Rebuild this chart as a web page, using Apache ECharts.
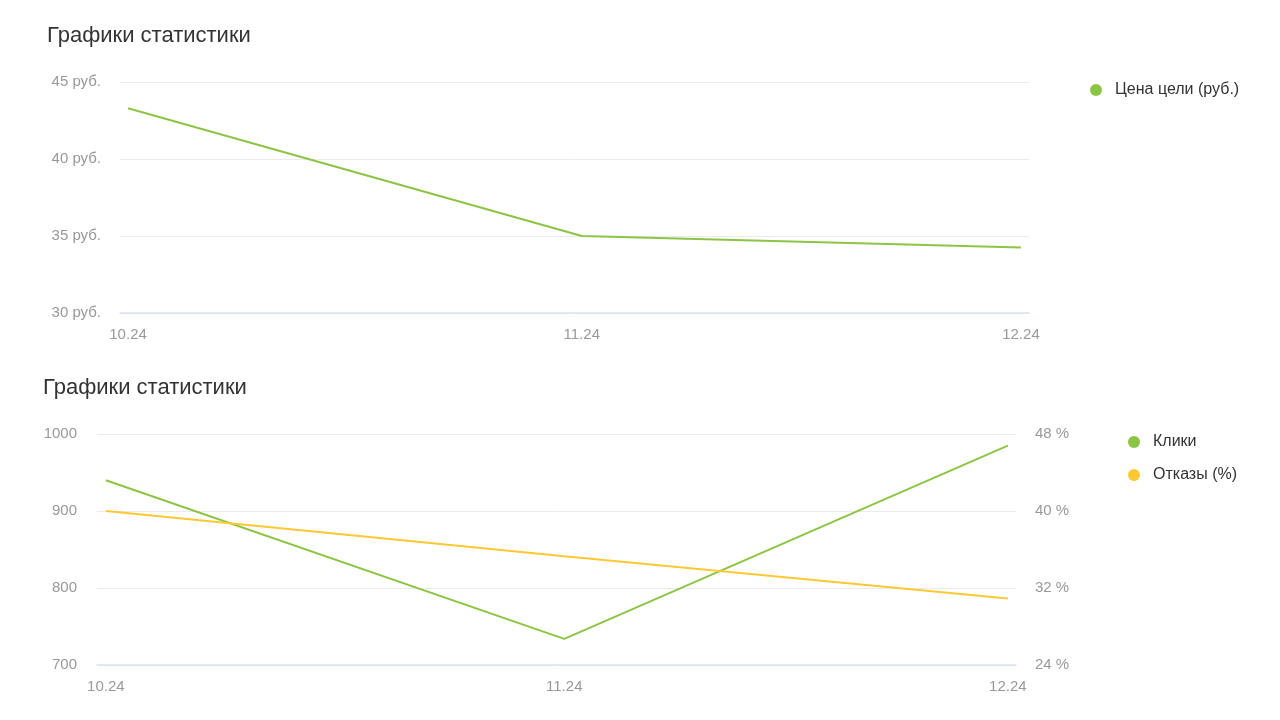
<!DOCTYPE html>
<html>
<head>
<meta charset="utf-8">
<script src="https://cdn.jsdelivr.net/npm/echarts@6/dist/echarts.min.js"></script>
<style>html,body{margin:0;padding:0;background:#fff;}#c{width:1280px;height:720px;}</style>
</head>
<body>
<div id="c"></div>
<script>
const dates = ['2024-10-01', '2024-11-01', '2024-12-01'];
const categories = ['10.24', '11.24', '12.24'];
const goalPrice = [43.3, 35.0, 34.25];
const clicks = [940, 734, 985];
const bounces = [40.0, 35.3, 30.9];
const titleText = 'Графики статистики';
const FONT = '"Liberation Sans", Arial, sans-serif';
const green = '#8cc544';
const yellow = '#fcc934';
const lab = {color: '#999', fontSize: 15, fontFamily: FONT};

const DAY = 86400000;
const ts = dates.map(d => Date.parse(d + 'T00:00:00Z'));
const toPts = arr => arr.map((v, i) => [ts[i], v]);
const fmtX = v => { const i = ts.indexOf(v); return i >= 0 ? categories[i] : ''; };

const chart = echarts.init(document.getElementById('c'));
chart.setOption({
  animation: false,
  textStyle: {fontFamily: FONT},
  title: [
    {text: titleText, left: 42, top: 20, textStyle: {fontSize: 22, fontWeight: 'normal', color: '#333', fontFamily: FONT}},
    {text: titleText, left: 38, top: 372, textStyle: {fontSize: 22, fontWeight: 'normal', color: '#333', fontFamily: FONT}}
  ],
  legend: [
    {data: ['Цена цели (руб.)'], orient: 'vertical', left: 1085, top: 77, icon: 'circle', itemWidth: 28, itemHeight: 12,
     textStyle: {fontSize: 16, color: '#333', fontFamily: FONT}},
    {data: ['Клики', 'Отказы (%)'], orient: 'vertical', left: 1123, top: 429, icon: 'circle', itemWidth: 28, itemHeight: 12, itemGap: 17,
     textStyle: {fontSize: 16, color: '#333', fontFamily: FONT}}
  ],
  grid: [
    {left: 120, right: 251, top: 82, bottom: 407},
    {left: 97, right: 264, top: 434, bottom: 55}
  ],
  xAxis: [
    {gridIndex: 0, type: 'value', min: ts[0] - 0.55 * DAY, max: ts[2] + 0.55 * DAY,
     splitLine: {show: false}, axisTick: {show: false},
     axisLine: {show: true, onZero: false, lineStyle: {color: '#dde1f2', width: 1.5}},
     axisLabel: Object.assign({margin: 14, customValues: ts, formatter: fmtX}, lab)},
    {gridIndex: 1, type: 'value', min: ts[0] - 0.6 * DAY, max: ts[2] + 0.55 * DAY,
     splitLine: {show: false}, axisTick: {show: false},
     axisLine: {show: true, onZero: false, lineStyle: {color: '#dde1f2', width: 1.5}},
     axisLabel: Object.assign({margin: 14, customValues: ts, formatter: fmtX}, lab)}
  ],
  yAxis: [
    {gridIndex: 0, type: 'value', min: 30, max: 45, interval: 5,
     axisLine: {show: false}, axisTick: {show: false},
     splitLine: {lineStyle: {color: '#ebebeb'}},
     axisLabel: Object.assign({margin: 19, formatter: '{value} руб.'}, lab)},
    {gridIndex: 1, type: 'value', min: 700, max: 1000, interval: 100,
     axisLine: {show: false}, axisTick: {show: false},
     splitLine: {lineStyle: {color: '#ebebeb'}},
     axisLabel: Object.assign({margin: 20, formatter: v => String(v)}, lab)},
    {gridIndex: 1, type: 'value', position: 'right', min: 24, max: 48, interval: 8,
     axisLine: {show: false}, axisTick: {show: false},
     splitLine: {show: false},
     axisLabel: Object.assign({margin: 19, formatter: '{value} %'}, lab)}
  ],
  series: [
    {name: 'Цена цели (руб.)', type: 'line', xAxisIndex: 0, yAxisIndex: 0, data: toPts(goalPrice),
     showSymbol: false, symbol: 'circle', lineStyle: {width: 2, color: green}, itemStyle: {color: green}},
    {name: 'Клики', type: 'line', xAxisIndex: 1, yAxisIndex: 1, data: toPts(clicks),
     showSymbol: false, symbol: 'circle', lineStyle: {width: 2, color: green}, itemStyle: {color: green}},
    {name: 'Отказы (%)', type: 'line', xAxisIndex: 1, yAxisIndex: 2, data: toPts(bounces),
     showSymbol: false, symbol: 'circle', lineStyle: {width: 2, color: yellow}, itemStyle: {color: yellow}}
  ]
});
</script>
</body>
</html>
